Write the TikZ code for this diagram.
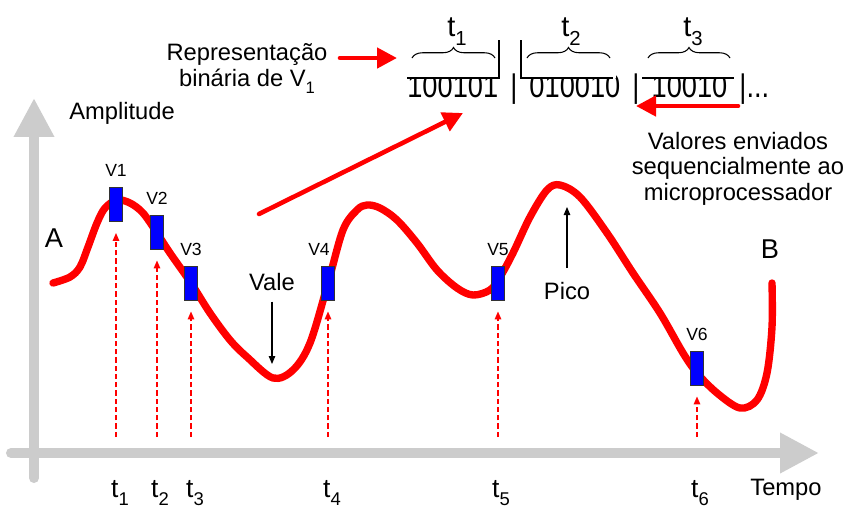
\documentclass[tikz,border=0pt]{standalone}
\usepackage{fontspec}
\setmainfont{Liberation Sans}
\usetikzlibrary{arrows.meta,positioning,calc,decorations.pathreplacing}
\definecolor{axisgray}{HTML}{CCCCCC}
\definecolor{signal}{HTML}{FF0000}
\definecolor{sample}{HTML}{0000FF}
\definecolor{boxedge}{HTML}{333333}
\newcommand{\lowsub}[1]{\raisebox{-0.6ex}{\scalebox{0.7}{#1}}}

\begin{document}
\begin{tikzpicture}[
    x=0.02cm, y=-0.02cm,
    every node/.style={inner sep=0pt, text=black},
    lbl/.style={font=\fontsize{13.5}{14.5}\selectfont, align=center},
    vlbl/.style={font=\fontsize{10}{12}\selectfont},
    tlbl/.style={font=\fontsize{15}{17}\selectfont},
    ttop/.style={font=\fontsize{16.5}{18}\selectfont},
    bigletter/.style={font=\fontsize{15.5}{17}\selectfont},
    axis/.style={draw=axisgray, line width=5.7pt, line cap=round,
        -{Triangle[length=0.78cm,width=0.76cm]}},
    wave/.style={draw=signal, line width=4.2pt, line cap=round, line join=round},
    sampbox/.style={rectangle, draw=boxedge, line width=0.5pt, fill=sample,
        minimum width=0.26cm, minimum height=0.68cm},
    redarrow/.style={draw=signal, line width=2.6pt, line cap=round,
        -{Triangle[length=0.4cm,width=0.4cm]}},
    samparrow/.style={draw=signal, line width=0.8pt, dash pattern=on 3pt off 1.7pt,
        -{Triangle[length=0.16cm,width=0.13cm]}, shorten >=0.22cm},
    pointer/.style={draw=black, line width=0.6pt,
        -{Triangle[length=0.16cm,width=0.13cm]}},
    brc/.style={draw=black, line width=0.6pt, decorate,
        decoration={brace, amplitude=0.21cm}},
]

% Background
\fill[white] (0,0) rectangle (849,508);
\useasboundingbox (0,0) rectangle (849,508);

% =============================================================
% AXES
% =============================================================
\coordinate (ybot) at (34,478);
\coordinate (ytop) at (34,98);
\coordinate (xleft) at (11,453);
\coordinate (xright) at (819,453);
\draw[axis] (ybot) -- (ytop);
\draw[axis] (xleft) -- (xright);

\node[lbl, anchor=base] (amp) at (122,119) {Amplitude};
\node[lbl, anchor=base] (tempo) at (786,495) {Tempo};

% =============================================================
% SIGNAL
% =============================================================
\draw[wave] plot[smooth, tension=0.55] coordinates {
    (53,283) (70,277) (80,267) (88,247) (97,223) (105,208) (117,200)
    (130,203) (143,213) (157,233) (170,253) (191,283) (210,313)
    (230,340) (247,357) (273,378) (293,370) (310,343) (328,283)
    (343,230) (357,210) (367,205) (380,208) (397,220) (417,243)
    (437,270) (457,288) (473,295) (490,290) (500,277) (513,253)
    (530,217) (547,190) (560,185) (580,197) (607,233) (633,273)
    (660,313) (683,353) (697,373) (717,393) (740,408) (757,400)
    (767,373) (772,327) (772,283)
};

\node[bigletter, anchor=base] (ptA) at (54,247) {A};
\node[bigletter, anchor=base] (ptB) at (770,258) {B};

% Peak and valley pointers
\node[lbl, anchor=base] (vale) at (272,290) {Vale};
\coordinate (valebot) at (272,364);
\draw[pointer] ([yshift=-0.22cm]vale.south) -- (valebot);

\node[lbl, anchor=base] (pico) at (567,299) {Pico};
\coordinate (picotop) at (567,207);
\draw[pointer] ([yshift=0.62cm]pico.base) -- (picotop);

% =============================================================
% SAMPLES
% =============================================================
\node[sampbox, label={[vlbl, label distance=0.2cm]above:V1}] (v1) at (116,204.5) {};
\node[sampbox, label={[vlbl, label distance=0.2cm]above:V2}] (v2) at (157,232) {};
\node[sampbox, label={[vlbl, label distance=0.2cm]above:V3}] (v3) at (191,283) {};
\node[sampbox, label={[vlbl, label distance=0.2cm, xshift=-0.18cm]above:V4}] (v4) at (328,283) {};
\node[sampbox, label={[vlbl, label distance=0.2cm]above:V5}] (v5) at (498,283) {};
\node[sampbox, label={[vlbl, label distance=0.2cm]above:V6}] (v6) at (697,368) {};

\coordinate (s1) at (116,437);
\coordinate (s2) at (157,437);
\coordinate (s3) at (191,437);
\coordinate (s4) at (328,437);
\coordinate (s5) at (498,437);
\coordinate (s6) at (697,437);
\foreach \i in {1,...,6}
    \draw[samparrow] (s\i) -- (v\i.south);

% Time labels
\node[tlbl, anchor=base] (lt1) at (120,497) {t\lowsub{1}};
\node[tlbl, anchor=base] (lt2) at (160,497) {t\lowsub{2}};
\node[tlbl, anchor=base] (lt3) at (195,497) {t\lowsub{3}};
\node[tlbl, anchor=base] (lt4) at (332,497) {t\lowsub{4}};
\node[tlbl, anchor=base] (lt5) at (501,497) {t\lowsub{5}};
\node[tlbl, anchor=base] (lt6) at (700,497) {t\lowsub{6}};

% =============================================================
% BINARY WORDS
% =============================================================
\node[anchor=base west, font=\fontsize{15.5}{17}\selectfont] (bits) at (407,97)
    {\scalebox{1}[1.2]{100101 \,|\, 010010 \,|\, 10010 \,|...}};

% tops of the words hidden under the frames
\fill[white] (404,60) rectangle (500,78);
\fill[white] (519,60) rectangle (616,78);
\fill[white] (640,60) rectangle (740,78);
\draw[line width=0.6pt] (407,78) -- (499,78) -- (499,40);
\draw[line width=0.6pt] (521,40) -- (521,78) -- (613,78);
\draw[line width=0.6pt] (642,78) -- (734,78);

\draw[brc] (412,58) -- (495,58);
\draw[brc] (527,58) -- (610,58);
\draw[brc] (648,58) -- (730,58);
\node[ttop, anchor=base] (w1) at (457,36) {t\lowsub{1}};
\node[ttop, anchor=base] (w2) at (571,36) {t\lowsub{2}};
\node[ttop, anchor=base] (w3) at (693,36) {t\lowsub{3}};

% =============================================================
% NOTES AND RED ARROWS
% =============================================================
\node[lbl, anchor=base] (rep) at (247,86)
    {Representação\\binária de V\lowsub{1}};
\coordinate (repin) at (397,58);
\draw[redarrow] (340,58) -- (repin);

\coordinate (sendfrom) at (259,214);
\coordinate (sendto) at (463,113);
\draw[redarrow] (sendfrom) -- (sendto);

\node[lbl, anchor=base] (sent) at (738,200)
    {Valores enviados\\sequencialmente ao\\microprocessador};
\coordinate (sentfrom) at (738,106);
\coordinate (sentto) at (636,106);
\draw[redarrow] (sentfrom) -- (sentto);

\end{tikzpicture}
\end{document}
